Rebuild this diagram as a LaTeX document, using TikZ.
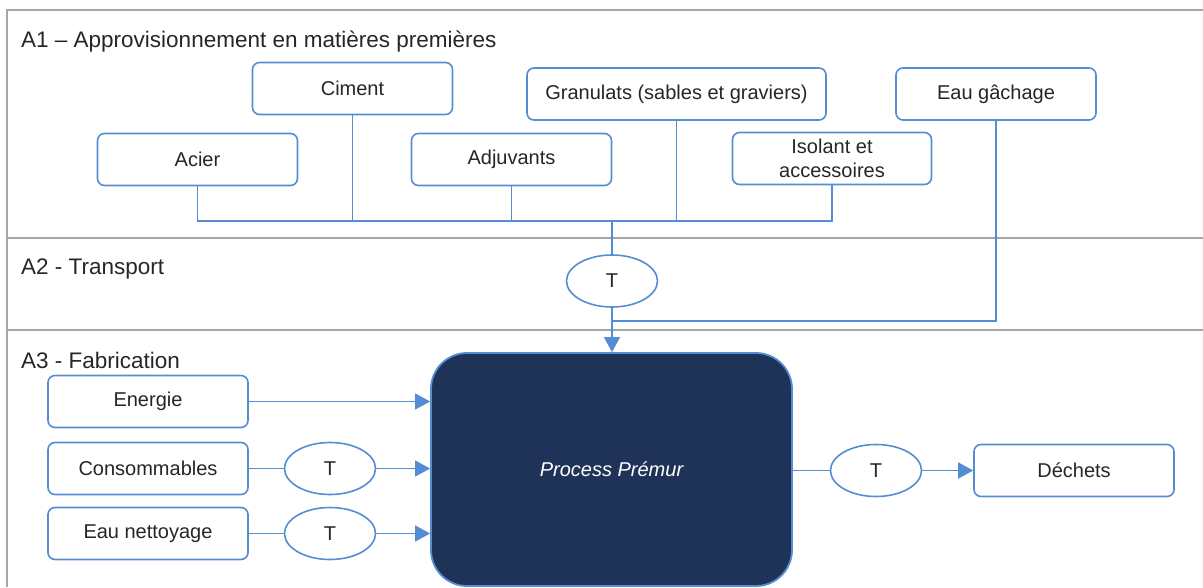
\documentclass[tikz,border=0pt]{standalone}
\usepackage{fontspec}
\setmainfont{Liberation Sans}
\usetikzlibrary{arrows.meta,shapes.geometric}
\definecolor{bleuligne}{RGB}{84,141,212}
\definecolor{grisbord}{RGB}{166,166,166}
\definecolor{marine}{RGB}{31,51,88}
\definecolor{texte}{RGB}{38,38,38}
\tikzset{
  boite/.style={draw=bleuligne, line width=1.6pt, rounded corners=7pt, fill=white,
    minimum width=200pt, minimum height=52pt, inner sep=0pt, align=center,
    text=texte, font=\fontsize{20}{24.5}\selectfont},
  transp/.style={draw=bleuligne, line width=1.6pt, ellipse, fill=white,
    minimum width=91pt, minimum height=52pt, inner sep=0pt,
    text=texte, font=\fontsize{20}{24}\selectfont},
  lien/.style={draw=bleuligne, line width=1.4pt},
  fleche/.style={lien, -{Triangle[length=15pt,width=16pt]}},
  cadre/.style={draw=grisbord, line width=2pt},
  titre/.style={anchor=west, inner sep=0pt, text=texte, font=\fontsize{22.5}{26}\selectfont}
}
\begin{document}
\begin{tikzpicture}[x=1pt,y=-1pt]
  \useasboundingbox (0,0) rectangle (1203,587);

  % Drawing frame and dividers
  \draw [cadre] (7,587) -- (7,10) -- (1203,10);%
  \draw [cadre] (7,237.5) -- (1203,237.5);%
  \draw [cadre] (7,329.5) -- (1203,329.5);%

  % Marking stage titles
  \node [titre] (titreA1) at (21,42) {A1 – Approvisionnement en matières premières};%
  \node [titre] (titreA2) at (21,269) {A2 - Transport};%
  \node [titre] (titreA3) at (21,360) {A3 - Fabrication};%

  % Drawing boxes of A1
  \node [boite] (acier) at (197.5,159.5) {Acier};%
  \node [boite] (ciment) at (352.5,88.5) {Ciment};%
  \node [boite] (adjuvants) at (511.5,159.5) {Adjuvants};%
  \node [boite, minimum width=299pt] (granulats) at (676.5,94) {Granulats (sables et graviers)};%
  \node [boite, minimum width=199pt] (isolant) at (832,158.5) {Isolant et\\accessoires};%
  \node [boite] (eaugachage) at (996,94) {Eau gâchage};%

  % Drawing collecting line of A1
  \coordinate (bus) at (612,221);%
  \coordinate (jonction) at (612,321);%
  \draw [lien] (acier.south) |- (bus);%
  \draw [lien] (isolant.south) |- (bus);%
  \draw [lien] (ciment.south) -- (ciment.south |- bus);%
  \draw [lien] (adjuvants.south) -- (adjuvants.south |- bus);%
  \draw [lien] (granulats.south) -- (granulats.south |- bus);%

  % Drawing transport A2
  \node [transp] (transA2) at (612,281) {T};%
  \draw [lien] (bus) -- (transA2.north);%
  \draw [lien] (eaugachage.south) |- (jonction);%

  % Drawing process A3
  \node [draw=bleuligne, line width=1.8pt, fill=marine, rounded corners=36pt,
    minimum width=361pt, minimum height=233pt, inner sep=0pt,
    text=white, font=\fontsize{20}{24}\selectfont\itshape] (process) at (611.5,469.5) {Process Prémur};%
  \draw [fleche] (transA2.south) -- (transA2.south |- process.north);%

  % Drawing inputs of A3
  \node [boite] (energie) at (148,401.5) {Energie};%
  \node [boite] (consommables) at (148,468.5) {Consommables};%
  \node [boite] (eaunettoyage) at (148,533.5) {Eau nettoyage};%
  \node [transp] (transCons) at (330,468.5) {T};%
  \node [transp] (transEau) at (330,533.5) {T};%
  \draw [fleche] (energie.east) -- (energie.east -| process.west);%
  \draw [lien] (consommables.east) -- (transCons.west);%
  \draw [fleche] (transCons.east) -- (transCons.east -| process.west);%
  \draw [lien] (eaunettoyage.east) -- (transEau.west);%
  \draw [fleche] (transEau.east) -- (transEau.east -| process.west);%

  % Drawing output of A3
  \node [transp] (transDech) at (876,470.5) {T};%
  \node [boite] (dechets) at (1074,470.5) {Déchets};%
  \draw [lien] (transDech.west -| process.east) -- (transDech.west);%
  \draw [fleche] (transDech.east) -- (dechets.west);%
\end{tikzpicture}
\end{document}
